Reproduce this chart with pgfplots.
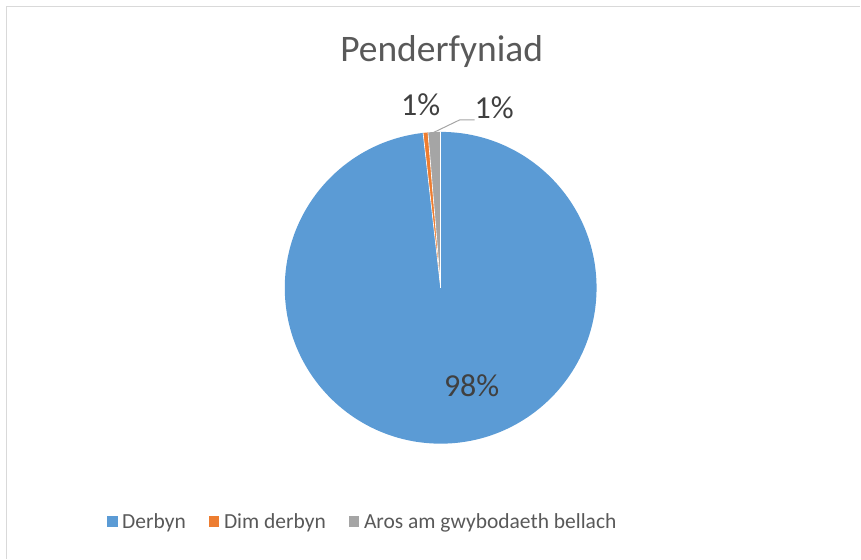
\documentclass[border=0pt]{standalone}
\usepackage{fontspec}
\setmainfont{Carlito}
\usepackage{pgfplots}
\usepackage{pgfplotstable}
\pgfplotsset{compat=1.18}
\definecolor{cBlue}{HTML}{5B9BD5}
\definecolor{cOrange}{HTML}{ED7D31}
\definecolor{cGrey}{HTML}{A5A5A5}
\definecolor{cBorder}{HTML}{D9D9D9}
\definecolor{cText}{HTML}{595959}
\definecolor{cLabel}{HTML}{404040}
\pgfplotstableread{
label value
Derbyn 98.2
Dim 0.5
Aros 1.3
}\piedata
\begin{document}
\begin{tikzpicture}
\pgfplotstablegetelem{0}{value}\of\piedata \pgfmathsetmacro{\va}{\pgfplotsretval}
\pgfplotstablegetelem{1}{value}\of\piedata \pgfmathsetmacro{\vb}{\pgfplotsretval}
\pgfplotstablegetelem{2}{value}\of\piedata \pgfmathsetmacro{\vc}{\pgfplotsretval}
\pgfmathsetmacro{\aA}{90-3.6*\va}
\pgfmathsetmacro{\aB}{\aA-3.6*\vb}
\pgfmathsetmacro{\aC}{\aB-3.6*\vc}
\begin{axis}[
  x=1pt, y=1pt, xmin=0, xmax=861, ymin=0, ymax=559,
  hide axis, scale only axis, clip=false,
  legend columns=3,
  legend image code/.code={\fill[#1,draw=none] (0pt,-5pt) rectangle (10.5pt,5.5pt); \path (13pt,0pt);},
  legend style={at={(axis cs:363,37)}, anchor=center, draw=none, fill=none,
    font=\fontsize{21.5}{24}\selectfont, text=cText,
    /tikz/every even column/.append style={column sep=21pt},
    nodes={inner sep=2pt}},
]
\path (axis cs:0,0) rectangle (axis cs:861,559);
\draw[cBorder, line width=1.3pt] (axis cs:6.5,0) -- (axis cs:6.5,552.5) -- (axis cs:861,552.5);
\fill[cBlue] (axis cs:441,271) -- ++(90:156pt) arc[start angle=90, end angle=\aA, radius=156pt] -- cycle;
\fill[cOrange] (axis cs:441,271) -- ++(\aA:156pt) arc[start angle=\aA, end angle=\aB, radius=156pt] -- cycle;
\fill[cGrey] (axis cs:441,271) -- ++(\aB:156pt) arc[start angle=\aB, end angle=\aC, radius=156pt] -- cycle;
\draw[white, line width=0.6pt] (axis cs:441,271) -- ++(90:156pt);
\draw[white, line width=0.6pt] (axis cs:441,271) -- ++(\aA:156pt);
\draw[white, line width=0.6pt] (axis cs:441,271) -- ++(\aB:156pt);
\draw[cGrey, line width=1pt] (axis cs:433,426) -- (axis cs:460,439) -- (axis cs:475,439);
\node[anchor=base, text=cText, font=\fontsize{37.5}{44}\selectfont, inner sep=0pt] at (axis cs:442,497) {Penderfyniad};
\node[anchor=base, text=cLabel, font=\fontsize{32}{38}\selectfont, inner sep=0pt] at (axis cs:472,162) {98\%};
\node[anchor=base, text=cLabel, font=\fontsize{32}{38}\selectfont, inner sep=0pt] at (axis cs:421,443) {1\%};
\node[anchor=base, text=cLabel, font=\fontsize{32}{38}\selectfont, inner sep=0pt] at (axis cs:494.5,440) {1\%};
\addlegendimage{fill=cBlue}
\addlegendentry{Derbyn}
\addlegendimage{fill=cOrange}
\addlegendentry{Dim derbyn}
\addlegendimage{fill=cGrey}
\addlegendentry{Aros am gwybodaeth bellach}
\end{axis}
\end{tikzpicture}
\end{document}
